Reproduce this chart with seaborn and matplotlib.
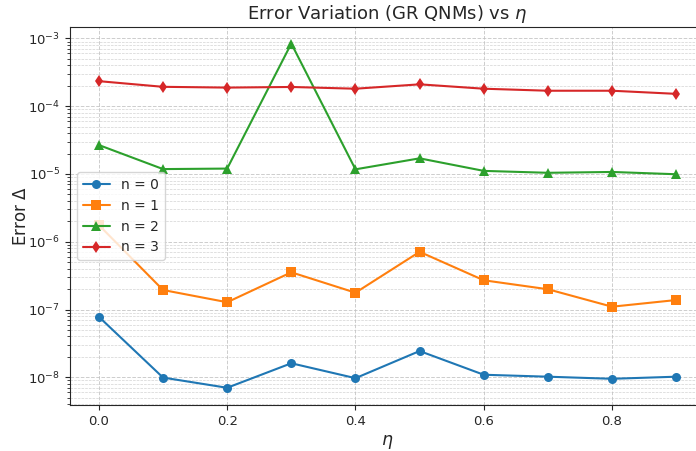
import numpy as np
import pandas as pd
import matplotlib
matplotlib.use("Agg")
import matplotlib.pyplot as plt
import seaborn as sns

# Error Δ of GR quasinormal modes versus eta, per overtone n
eta = [0.0, 0.1, 0.2, 0.3, 0.4, 0.5, 0.6, 0.7, 0.8, 0.9]
err_n0 = [7.8e-8, 9.9e-9, 7.0e-9, 1.61e-8, 9.7e-9, 2.44e-8, 1.09e-8, 1.02e-8, 9.5e-9, 1.02e-8]
err_n1 = [1.76e-6, 1.94e-7, 1.28e-7, 3.54e-7, 1.77e-7, 7.1e-7, 2.7e-7, 1.99e-7, 1.10e-7, 1.38e-7]
err_n2 = [2.67e-5, 1.18e-5, 1.2e-5, 8.4e-4, 1.17e-5, 1.70e-5, 1.11e-5, 1.04e-5, 1.07e-5, 9.9e-6]
err_n3 = [2.34e-4, 1.93e-4, 1.88e-4, 1.92e-4, 1.81e-4, 2.1e-4, 1.81e-4, 1.69e-4, 1.69e-4, 1.52e-4]
series_labels = ["n = 0", "n = 1", "n = 2", "n = 3"]

frames = []
for lab, vals in zip(series_labels, [err_n0, err_n1, err_n2, err_n3]):
    frames.append(pd.DataFrame({"eta": eta, "err": vals, "mode": lab}))
df = pd.concat(frames, ignore_index=True)

sns.set_style("ticks")
plt.rcParams["font.family"] = ["DejaVu Sans"]

fig = plt.figure(figsize=(6.96, 4.51), dpi=100)
ax = fig.add_axes([0.1006, 0.102, 0.9124, 0.838])

palette = ["#1f77b4", "#ff7f0e", "#2ca02c", "#d62728"]
markers = ["o", "s", "^", "d"]
sns.lineplot(data=df, x="eta", y="err", hue="mode", style="mode",
             palette=palette, markers=markers, dashes=False,
             markersize=6.5, markeredgewidth=0, linewidth=1.5, ax=ax)

ax.set_yscale("log")
ax.set_ylim(3.9e-9, 1.47e-3)
ax.set_xlim(-0.045, 0.945)
ax.set_xticks([0.0, 0.2, 0.4, 0.6, 0.8])
ax.grid(True, which="major", linestyle="--", color="#c0c0c0", linewidth=0.7, alpha=0.8)
ax.grid(True, which="minor", linestyle="--", color="#c0c0c0", linewidth=0.5, alpha=0.7)
ax.tick_params(labelsize=9.5)

ax.set_title(r"Error Variation (GR QNMs) vs $\eta$", fontsize=13)
ax.set_xlabel(r"$\eta$", fontsize=12.5)
ax.set_ylabel(r"Error $\Delta$", fontsize=12, labelpad=-1)
ax.legend(loc="center left", fontsize=10, title=None)

fig.savefig("out.png", dpi=100)
